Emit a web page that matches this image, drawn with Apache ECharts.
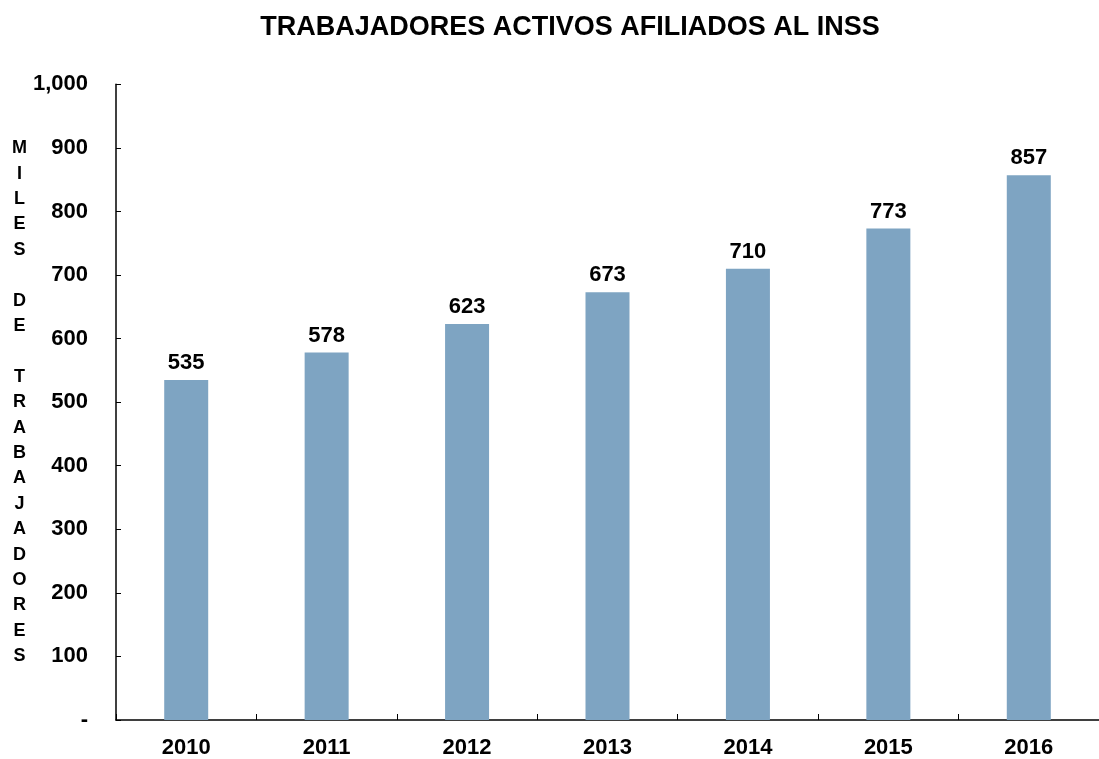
<!DOCTYPE html>
<html>
<head>
<meta charset="utf-8">
<script src="https://cdn.jsdelivr.net/npm/echarts@6/dist/echarts.min.js"></script>
<style>
  html, body { margin: 0; padding: 0; background: #fff; }
  #main { width: 1099px; height: 759px; }
</style>
</head>
<body>
<div id="main"></div>
<script>
var years = ["2010", "2011", "2012", "2013", "2014", "2015", "2016"];
var trabajadores = [535, 578, 623, 673, 710, 773, 857];
var yTicks = [0, 100, 200, 300, 400, 500, 600, 700, 800, 900, 1000];
var titleText = "TRABAJADORES ACTIVOS AFILIADOS AL INSS";
var yName = "MILES DE TRABAJADORES";

var fontFam = "Liberation Sans, Arial, sans-serif";
// stack the axis name letter by letter, blank line between words
var stackedName = yName.split(" ").map(function (w) {
  return w.split("").join("\n");
}).join("\n\n");

var chartDom = document.getElementById("main");
var myChart = echarts.init(chartDom);
var option = {
  animation: false,
  title: {
    text: titleText,
    left: 565,
    textAlign: "center",
    top: 9,
    textStyle: { fontFamily: fontFam, fontWeight: "bold", fontSize: 27, color: "#000" },
  },
  grid: { left: 116, top: 84.3, bottom: 37.7, width: 988, containLabel: false },
  xAxis: {
    type: "category",
    data: years,
    axisLine: { lineStyle: { color: "#000", width: 1.5 } },
    axisTick: { show: true, inside: true, length: 6, lineStyle: { color: "#000" } },
    axisLabel: { margin: 17, fontFamily: fontFam, fontWeight: "bold", fontSize: 22, color: "#000" },
  },
  yAxis: {
    type: "value",
    min: yTicks[0],
    max: yTicks[yTicks.length - 1],
    interval: 100,
    name: stackedName,
    nameLocation: "middle",
    nameRotate: 0,
    nameGap: 96.5,
    nameTextStyle: {
      fontFamily: fontFam, fontWeight: "bold", fontSize: 18, color: "#000",
      align: "center", verticalAlign: "middle", lineHeight: 25.4,
    },
    splitLine: { show: false },
    axisLine: { show: true, lineStyle: { color: "#000", width: 1.5 } },
    axisTick: { show: true, inside: true, length: 5, lineStyle: { color: "#000" } },
    axisLabel: {
      margin: 28, fontFamily: fontFam, fontWeight: "bold", fontSize: 22, color: "#000",
      formatter: function (v) { return v === 0 ? "-" : v.toLocaleString("en-US"); },
    },
  },
  series: [
    {
      type: "bar",
      data: trabajadores,
      barWidth: 44,
      itemStyle: { color: "#7ea4c2" },
      label: {
        show: true, position: "top", distance: 6,
        fontFamily: fontFam, fontWeight: "bold", fontSize: 22, color: "#000",
      },
    },
  ],
};
myChart.setOption(option);
</script>
</body>
</html>
